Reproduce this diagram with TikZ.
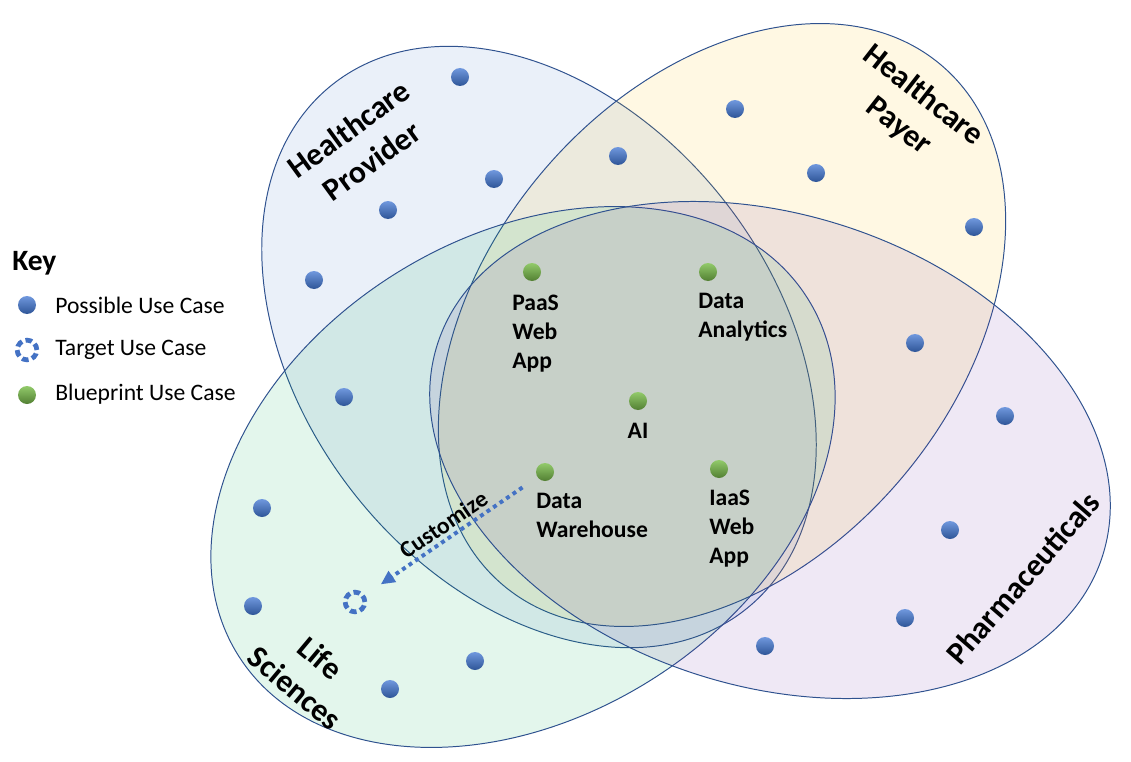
\documentclass[tikz,border=0pt]{standalone}
\usepackage{fontspec}
\setmainfont{Carlito}
\usetikzlibrary{arrows.meta}

\definecolor{rim}{HTML}{2F528F}
\definecolor{provider}{HTML}{4472C4}
\definecolor{payer}{HTML}{FFC000}
\definecolor{lifesci}{HTML}{00B050}
\definecolor{pharma}{HTML}{7030A0}
\definecolor{possTop}{HTML}{7098DE}
\definecolor{possBot}{HTML}{2E5597}
\definecolor{bpTop}{HTML}{92CA6A}
\definecolor{bpBot}{HTML}{527F33}

\begin{document}
\begin{tikzpicture}[x=0.025cm, y=-0.025cm,
	region/.style={draw=rim, line width=0.7pt, fill opacity=0.11},
	possible/.style={circle, inner sep=0pt, minimum size=12.8pt, top color=possTop, bottom color=possBot},
	blueprint/.style={circle, inner sep=0pt, minimum size=12.8pt, top color=bpTop, bottom color=bpBot},
	targetcase/.style={circle, inner sep=0pt, minimum size=14pt, draw=provider, line width=3.4pt, dash pattern=on 4.7pt off 2.6pt},
	customize/.style={draw=provider, line width=2.8pt, dash pattern=on 2.8pt off 2.8pt, -{Triangle[length=10pt, width=9pt]}, shorten <=12.8pt, shorten >=13.5pt},
	sector/.style={font=\fontsize{22.5}{28}\selectfont\bfseries, align=center, inner sep=0pt},
	case/.style={font=\fontsize{16.8}{20.6}\selectfont\bfseries, align=left, inner sep=0pt, anchor=west},
	keytext/.style={font=\fontsize{16.8}{20.6}\selectfont, inner sep=0pt, anchor=west}]

	\useasboundingbox (0,0) rectangle (1131,762);

	% sectors
	\draw[region, fill=provider, rotate around={-52:(539,347)}] (539,347) ellipse [x radius=334, y radius=236];
	\draw[region, fill=payer, rotate around={50:(722,325)}] (722,325) ellipse [x radius=340, y radius=236];
	\draw[region, fill=lifesci, rotate around={32:(523,477)}] (523,477) ellipse [x radius=336, y radius=240];
	\draw[region, fill=pharma, rotate around={-17.6:(770,450)}] (770,450) ellipse [x radius=349, y radius=236];

	\node (provider) at (360,145) [sector, rotate=36] {Healthcare\\Provider};
	\node (payer) at (911,111) [sector, rotate=-38] {Healthcare\\Payer};
	\node (lifesci) at (308,673) [sector, rotate=-40] {Life\\Sciences};
	\node (pharma) at (1023,578) [sector, rotate=49] {Pharmaceuticals};

	% possible use cases
	\node (p1) at (460,77) [possible] {};
	\node (p2) at (618,156) [possible] {};
	\node (p3) at (494,179) [possible] {};
	\node (p4) at (388,210) [possible] {};
	\node (p5) at (314,280) [possible] {};
	\node (p6) at (344,397) [possible] {};
	\node (p7) at (735,109) [possible] {};
	\node (p8) at (816,173) [possible] {};
	\node (p9) at (974,227) [possible] {};
	\node (p10) at (915,343) [possible] {};
	\node (p11) at (1005,416) [possible] {};
	\node (p12) at (950,530) [possible] {};
	\node (p13) at (905,618) [possible] {};
	\node (p14) at (765,646) [possible] {};
	\node (p15) at (475,661) [possible] {};
	\node (p16) at (390,689) [possible] {};
	\node (p17) at (253,606) [possible] {};
	\node (p18) at (262,508) [possible] {};

	% blueprint use cases
	\node (paas) at (532,272) [blueprint] {};
	\node (analytics) at (708,272) [blueprint] {};
	\node (ai) at (638,401) [blueprint] {};
	\node (dw) at (545,472) [blueprint] {};
	\node (iaas) at (719,469) [blueprint] {};

	\node (paastext) at (512,334) [case] {PaaS\\Web\\App};
	\node (analyticstext) at (698,317) [case] {Data\\Analytics};
	\node (aitext) at (638,431) [case, anchor=center] {AI};
	\node (dwtext) at (536,515) [case] {Data\\Warehouse};
	\node (iaastext) at (709,529) [case] {IaaS\\Web\\App};

	% target use case
	\node (tgt) at (355,602) [targetcase] {};
	\path (dw) edge[customize] node[sloped, above, inner sep=2.5pt, font=\fontsize{16.8}{20.6}\selectfont\bfseries] {Customize} (tgt);

	% key
	\node (key) at (12,263) [keytext, font=\fontsize{21}{25}\selectfont\bfseries] {Key};
	\node (kp) at (27,305) [possible] {};
	\node (kt) at (27,350) [targetcase] {};
	\node (kb) at (27,395) [blueprint] {};
	\node (kptext) at (55,305) [keytext] {Possible Use Case};
	\node (kttext) at (55,350) [keytext] {Target Use Case};
	\node (kbtext) at (55,394) [keytext] {Blueprint Use Case};
\end{tikzpicture}
\end{document}
